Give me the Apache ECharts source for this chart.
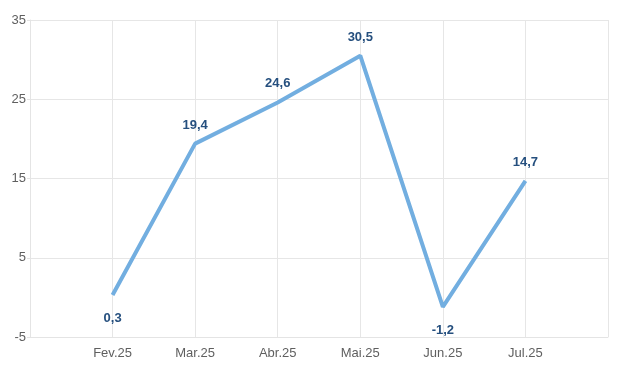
<!DOCTYPE html>
<html><head><meta charset="utf-8">
<script src="https://cdn.jsdelivr.net/npm/echarts@6/dist/echarts.min.js"></script>
<style>html,body{margin:0;padding:0;background:#fff}#c{width:624px;height:371px}</style>
</head><body><div id="c"></div>
<script>
const categories = ['', 'Fev.25', 'Mar.25', 'Abr.25', 'Mai.25', 'Jun.25', 'Jul.25', ''];
const values = [null, 0.3, 19.4, 24.6, 30.5, -1.2, 14.7, null];
const labelBelow = [false, true, false, false, false, true, false, false];
const yTicks = [-5, 5, 15, 25, 35];

const chart = echarts.init(document.getElementById('c'));
chart.setOption({
  animation: false,
  grid: { left: 30, right: 16, top: 20, bottom: 34, containLabel: false },
  xAxis: {
    type: 'category', data: categories, boundaryGap: false,
    axisLine: { show: true, onZero: false, lineStyle: { color: '#e4e4e4' } },
    axisTick: { show: false },
    axisLabel: { interval: 0, color: '#5f5f5f', fontFamily: 'Liberation Sans', fontSize: 13, margin: 10 },
    splitLine: { show: true, lineStyle: { color: '#e6e6e6' } }
  },
  yAxis: {
    type: 'value', min: yTicks[0], max: yTicks[yTicks.length - 1], interval: 10,
    axisLine: { show: true, lineStyle: { color: '#e4e4e4' } },
    axisTick: { show: true, length: 3, lineStyle: { color: '#e4e4e4' } },
    axisLabel: { color: '#5f5f5f', fontFamily: 'Liberation Sans', fontSize: 13, margin: 4 },
    splitLine: { show: true, lineStyle: { color: '#e6e6e6' } }
  },
  series: [{
    type: 'line',
    data: values.map((v, i) => v === null ? null : {
      value: v,
      label: labelBelow[i] ? { position: 'bottom', distance: 16 } : { position: 'top', distance: 11 }
    }),
    showSymbol: true,
    symbol: 'circle',
    symbolSize: 2,
    itemStyle: { color: 'rgba(114,174,224,0)', borderWidth: 0 },
    connectNulls: false,
    lineStyle: { color: '#72aee0', width: 4 },
    label: {
      show: true, opacity: 1,
      color: '#254f7e', fontWeight: 'bold', fontFamily: 'Liberation Sans', fontSize: 13,
      formatter: p => String(p.value).replace('.', ',')
    }
  }]
});
</script></body></html>
